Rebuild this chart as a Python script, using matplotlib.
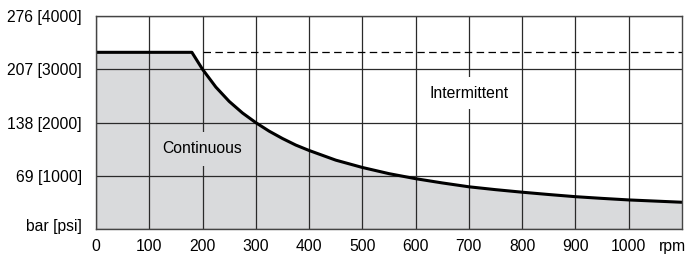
# Pressure vs speed rating chart

import numpy as np
import matplotlib
matplotlib.use('Agg')
from matplotlib import pyplot as plt
from matplotlib import transforms

plt.rcParams['font.family'] = ['Liberation Sans', 'DejaVu Sans']

# curve: rpm, bar
rpm = [0, 180, 190, 200, 225, 250, 275, 300, 325, 350, 375, 400, 450, 500,
       550, 600, 650, 700, 750, 800, 850, 900, 950, 1000, 1050, 1100]
bar = [229, 229, 218, 207, 184, 165.5, 150.5, 138, 127, 117.5, 109, 102, 89.5, 80,
       72, 65.5, 60, 55, 51.3, 48, 45, 42.2, 40, 38, 36.5, 35]

intermittent_start = 200
intermittent_level = 229

x_ticks = [0, 100, 200, 300, 400, 500, 600, 700, 800, 900, 1000]
y_ticks = [0, 69, 138, 207, 276]
y_labels = ['bar [psi]', '69 [1000]', '138 [2000]', '207 [3000]', '276 [4000]']

fill_color = '#d9dadc'
grid_color = '#2a2a2a'
fs = 11.3

fig = plt.figure(figsize=(6.87, 2.56), dpi=100)
ax = fig.add_axes([96 / 687, 1 - 229.3 / 256, 586 / 687, 213.3 / 256])

ax.fill_between(rpm, bar, 0, color=fill_color, lw=0, zorder=1)
ax.plot(rpm, bar, color='black', lw=2.2, zorder=2, solid_joinstyle='round')
ax.plot([intermittent_start, 1100], [intermittent_level, intermittent_level],
        color='black', lw=0.9, dashes=(6, 3.5), zorder=2)

ax.set_xlim(0, 1100)
ax.set_ylim(0, 276)
ax.set_xticks(x_ticks)
ax.set_xticklabels([str(t) for t in x_ticks], fontsize=fs)
ax.set_yticks(y_ticks)
ax.set_yticklabels(y_labels, fontsize=fs)
ax.tick_params(length=0)
ax.tick_params(axis='x', pad=7)
ax.tick_params(axis='y', pad=10)
ax.grid(True, color=grid_color, lw=0.9)
for s in ax.spines.values():
    s.set_color('#444444')
    s.set_linewidth(1.0)

# unit label sits a little above the zero line
lab0 = ax.get_yticklabels()[0]
lab0.set_transform(lab0.get_transform() + transforms.ScaledTranslation(0, 4 / 100, fig.dpi_scale_trans))

ax.text(199, 104, 'Continuous', fontsize=fs, ha='center', va='center', zorder=3,
        bbox=dict(boxstyle='square,pad=0.6', fc=fill_color, ec='none'))
ax.text(700, 176, 'Intermittent', fontsize=fs, ha='center', va='center', zorder=3,
        bbox=dict(boxstyle='square,pad=0.55', fc='white', ec='none'))

trans = transforms.blended_transform_factory(ax.transData, ax.transAxes)
ax.annotate('rpm', xy=(1056, 0), xycoords=trans, xytext=(0, -7),
            textcoords='offset points', ha='left', va='top', fontsize=fs)

plt.savefig('out.png', dpi=100)
